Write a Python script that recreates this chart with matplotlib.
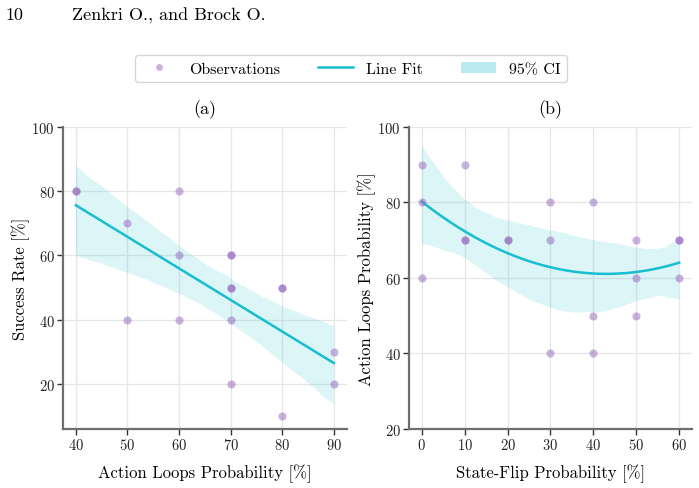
import numpy as np
import seaborn as sns
from matplotlib import pyplot as plt
from matplotlib.lines import Line2D
from matplotlib.patches import Patch

plt.rcParams['font.family'] = 'serif'
plt.rcParams['font.serif'] = ['cmr10']
plt.rcParams['mathtext.fontset'] = 'cm'
plt.rcParams['axes.formatter.use_mathtext'] = True

# (a) action loops probability vs success rate
loops_a = [40, 40, 50, 50, 60, 60, 60, 70, 70, 70, 70, 70, 70, 80, 80, 80, 90, 90]
success_a = [80, 80, 70, 40, 80, 60, 40, 60, 60, 50, 50, 40, 20, 50, 50, 10, 30, 20]

# (b) state-flip probability vs action loops probability
flip_b = [0, 0, 0, 10, 10, 10, 20, 20, 30, 30, 30, 40, 40, 40, 50, 50, 50, 60, 60, 60]
loops_b = [90, 80, 60, 90, 70, 70, 70, 70, 80, 70, 40, 80, 50, 40, 70, 60, 50, 70, 70, 60]

point_color = '#9467bd'
line_color = '#17becf'
spine_color = '#6e6e6e'


def style_axis(ax, title, xlabel, ylabel):
    ax.set_title(title, fontsize=13, pad=10)
    ax.set_xlabel(xlabel, fontsize=12, labelpad=8)
    ax.set_ylabel(ylabel, fontsize=12, labelpad=1)
    ax.grid(True, color='#e6e6e6', linewidth=0.9)
    ax.set_axisbelow(True)
    for side in ['top', 'right']:
        ax.spines[side].set_visible(False)
    for side in ['left', 'bottom']:
        ax.spines[side].set_color(spine_color)
        ax.spines[side].set_linewidth(1.6)
    ax.tick_params(direction='out', length=4, width=1, color='#333333', pad=2,
                   labelsize=10.5, labelcolor='#222222')


def draw_panel(ax, x, y, order):
    ax.scatter(x, y, s=34, color=point_color, alpha=0.5, linewidths=0, zorder=3)
    sns.regplot(x=np.array(x), y=np.array(y), ax=ax, order=order, scatter=False,
                ci=95, seed=3, color=line_color, line_kws={'linewidth': 1.8})


fig = plt.figure(figsize=(6.99, 4.89), dpi=100)
ax_a = fig.add_axes([0.090, 0.1207, 0.406, 0.6176])
ax_b = fig.add_axes([0.585, 0.1207, 0.405, 0.6176])

draw_panel(ax_a, loops_a, success_a, 1)
ax_a.set_xlim(37.5, 92.5)
ax_a.set_ylim(6, 100)
ax_a.set_xticks([40, 50, 60, 70, 80, 90])
ax_a.set_yticks([20, 40, 60, 80, 100])
style_axis(ax_a, '(a)', 'Action Loops Probability [%]', 'Success Rate [%]')

draw_panel(ax_b, flip_b, loops_b, 2)
ax_b.set_xlim(-3, 63)
ax_b.set_ylim(20, 100)
ax_b.set_xticks([0, 10, 20, 30, 40, 50, 60])
ax_b.set_yticks([20, 40, 60, 80, 100])
style_axis(ax_b, '(b)', 'State-Flip Probability [%]', 'Action Loops Probability [%]')

handles = [
    Line2D([], [], marker='o', linestyle='none', markersize=5,
           markerfacecolor=point_color, markeredgewidth=0, alpha=0.5),
    Line2D([], [], color=line_color, linewidth=1.8),
    Patch(facecolor=line_color, alpha=0.3, edgecolor='none'),
]
fig.legend(handles, ['Observations', 'Line Fit', '95% CI'], loc='center',
           bbox_to_anchor=(0.502, 0.857), ncol=3, fontsize=11.5, frameon=True,
           edgecolor='#cccccc', fancybox=True, columnspacing=2.4, handlelength=2.2)

fig.text(0.008, 0.968, '10', fontsize=13, va='center')
fig.text(0.103, 0.968, 'Zenkri O., and Brock O.', fontsize=13, va='center')

fig.savefig('out.png', dpi=100)
